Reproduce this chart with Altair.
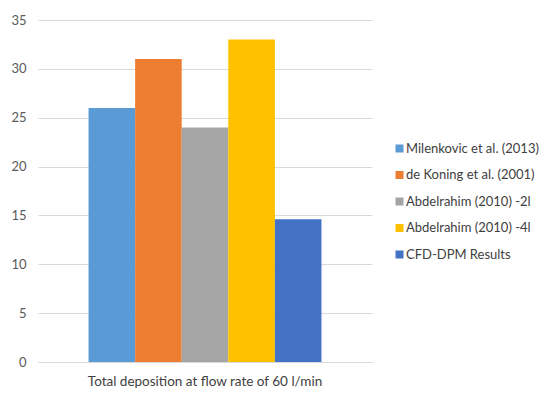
import altair as alt
import pandas as pd

category = ["Total deposition at flow rate of 60 l/min"] * 5
series = ["Milenkovic et al. (2013)", "de Koning et al. (2001)", "Abdelrahim (2010) -2l",
          "Abdelrahim (2010) -4l", "CFD-DPM Results"]
values = [26, 31, 24, 33, 14.6]
colors = ["#5B9BD5", "#ED7D31", "#A5A5A5", "#FFC000", "#4472C4"]

df = pd.DataFrame({"cat": category, "series": series, "value": values})

font = "Lato"

chart = alt.Chart(df).mark_bar().encode(
    x=alt.X("cat:N", title=None,
            scale=alt.Scale(paddingInner=0, paddingOuter=0.217),
            axis=alt.Axis(labelAngle=0, ticks=False, domainColor="#D9D9D9", labelPadding=12,
                          labelFontSize=13.5, labelColor="#404040", labelFont=font,
                          labelLimit=400)),
    xOffset=alt.XOffset("series:N", sort=series,
                        scale=alt.Scale(paddingInner=0, paddingOuter=0)),
    y=alt.Y("value:Q", title=None,
            scale=alt.Scale(domain=[0, 35]),
            axis=alt.Axis(values=[0, 5, 10, 15, 20, 25, 30, 35], domain=False, ticks=False,
                          gridColor="#D9D9D9", labelPadding=12, labelFontSize=13,
                          labelColor="#595959", labelFont=font)),
    color=alt.Color("series:N", sort=series, title=None,
                    scale=alt.Scale(domain=series, range=colors),
                    legend=alt.Legend(orient="none", legendX=355, legendY=122,
                                      symbolType="square", symbolSize=64, symbolStrokeWidth=0,
                                      labelFontSize=13, labelFont=font, labelColor="#404040",
                                      rowPadding=12.5, labelOffset=0, labelLimit=300)),
).properties(
    width=334, height=342,
    padding={"left": 30, "top": 12, "right": 168, "bottom": 28},
    autosize=alt.AutoSizeParams(type="none"),
).configure_view(stroke=None)

chart.save("out.html", embed_options={"renderer": "svg", "actions": False})
